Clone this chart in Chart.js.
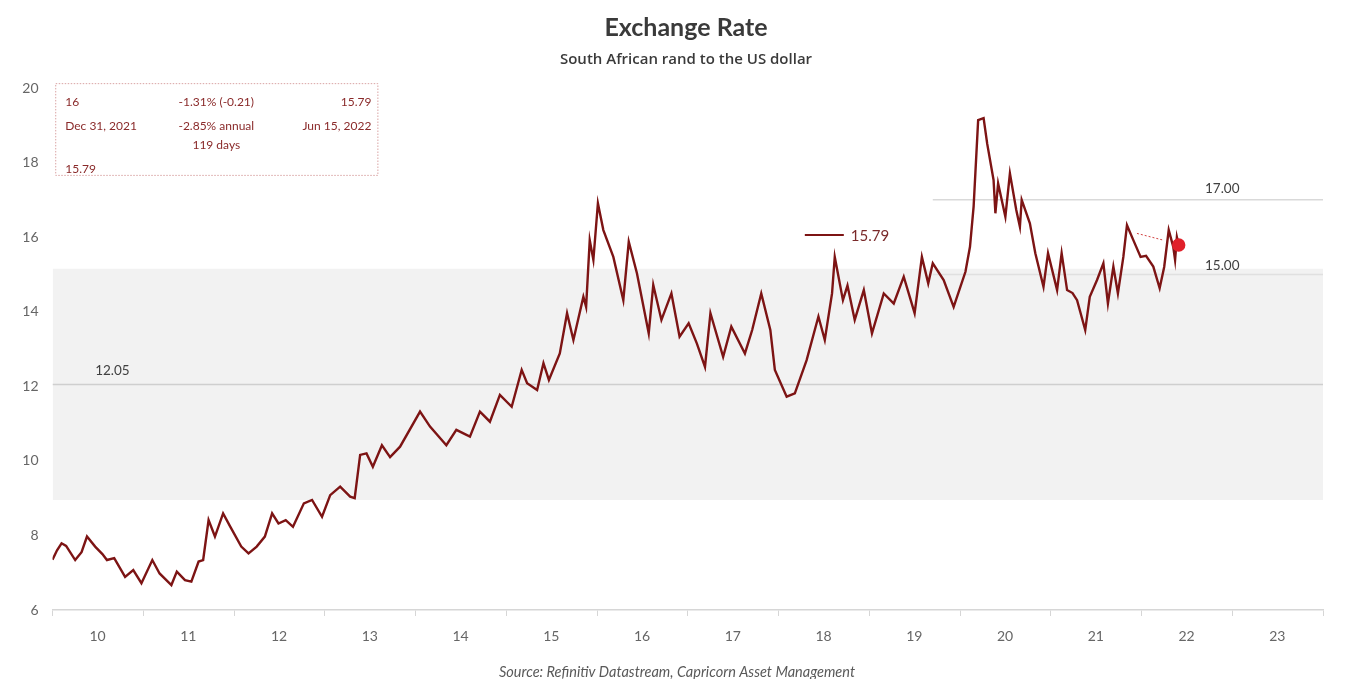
<!DOCTYPE html>
<html><head><meta charset="utf-8">
<script src="https://cdn.jsdelivr.net/npm/chart.js@4/dist/chart.umd.min.js"></script>
<style>html,body{margin:0;padding:0;background:#fff}#wrap{width:1358px;height:679px}</style>
</head><body><div id="wrap"><canvas id="c" width="1358" height="679"></canvas></div>
<script>
// ---- data ----
const dates = [2010.00,2010.05,2010.10,2010.15,2010.25,2010.32,2010.38,2010.47,2010.55,2010.60,2010.68,2010.80,2010.89,2010.98,
2011.10,2011.18,2011.31,2011.37,2011.46,2011.53,2011.61,2011.66,2011.72,2011.79,2011.88,2011.96,
2012.08,2012.16,2012.25,2012.34,2012.42,2012.49,2012.57,2012.65,2012.77,2012.86,2012.97,
2013.06,2013.17,2013.28,2013.33,2013.39,2013.46,2013.53,2013.63,2013.72,2013.83,
2014.05,2014.16,2014.34,2014.45,2014.60,2014.71,2014.82,2014.93,
2015.06,2015.17,2015.23,2015.34,2015.41,2015.47,2015.59,2015.67,2015.74,2015.85,2015.88,2015.92,2015.96,
2016.01,2016.07,2016.18,2016.29,2016.35,2016.44,2016.57,2016.62,2016.71,2016.82,2016.91,
2017.01,2017.10,2017.19,2017.25,2017.39,2017.48,2017.63,2017.71,2017.81,2017.91,2017.96,
2018.09,2018.18,2018.31,2018.44,2018.51,2018.59,2018.62,2018.71,2018.76,2018.84,2018.94,
2019.03,2019.16,2019.27,2019.38,2019.50,2019.58,2019.65,2019.70,2019.82,2019.93,
2020.06,2020.11,2020.15,2020.20,2020.26,2020.30,2020.37,2020.39,2020.42,2020.50,2020.55,2020.62,2020.66,2020.68,2020.77,2020.83,2020.92,2020.97,
2021.07,2021.12,2021.18,2021.24,2021.29,2021.38,2021.43,2021.51,2021.58,2021.63,2021.69,2021.74,2021.80,2021.84,2021.91,2021.99,
2022.05,2022.13,2022.20,2022.25,2022.30,2022.35,2022.37,2022.39,2022.41];
const rates = [7.35,7.60,7.79,7.72,7.34,7.55,7.97,7.70,7.50,7.34,7.39,6.89,7.07,6.72,
7.34,6.98,6.67,7.03,6.80,6.76,7.30,7.34,8.41,7.97,8.59,8.23,
7.70,7.52,7.70,7.97,8.59,8.32,8.41,8.23,8.86,8.95,8.50,
9.08,9.31,9.04,9.00,10.16,10.20,9.84,10.42,10.10,10.38,
11.32,10.92,10.42,10.83,10.65,11.32,11.05,11.77,
11.45,12.44,12.08,11.90,12.62,12.17,12.88,13.96,13.24,14.40,14.13,15.92,15.39,
16.91,16.19,15.47,14.31,15.88,15.03,13.42,14.72,13.78,14.49,13.33,
13.69,13.15,12.52,13.96,12.79,13.60,12.88,13.51,14.49,13.51,12.44,
11.72,11.81,12.70,13.87,13.24,14.49,15.47,14.31,14.70,13.78,14.58,
13.42,14.49,14.22,14.94,13.96,15.47,14.76,15.30,14.85,14.13,
15.07,15.74,16.82,19.14,19.19,18.50,17.53,16.64,17.44,16.55,17.71,16.73,16.28,17.00,16.37,15.57,14.67,15.57,
14.58,15.57,14.58,14.50,14.31,13.51,14.40,14.85,15.30,14.22,15.21,14.49,15.47,16.32,15.92,15.47,
15.50,15.21,14.63,15.20,16.19,15.74,15.39,16.00,15.79];
const yearLabels = ['10','11','12','13','14','15','16','17','18','19','20','21','22','23'];
const bandRange = [8.95, 15.15];
const averageLevel = 12.05;
const upperLevel = 17.00;
const lowerLevel = 15.00;
const levelStart = 2019.7;
const trendFrom = [2021.95, 16.10];
const trendTo = [2022.24, 15.92];
const infoRows = [
  ['16', '-1.31% (-0.21)', '15.79'],
  ['Dec 31, 2021', '-2.85% annual', 'Jun 15, 2022'],
  ['', '119 days', ''],
  ['15.79', '', '']
];
const lastValueLabel = '15.79';
const titleText = 'Exchange Rate';
const subtitleText = 'South African rand to the US dollar';
const sourceText = 'Source: Refinitiv Datastream, Capricorn Asset Management';

const FONT = 'Lato, "Open Sans", sans-serif';
const RED = '#7d1414';
const xMin = 2010, xMax = 2024;

const series = dates.map((d, i) => ({x: d, y: rates[i]}));
const lastIdx = series.length - 1;

const textPlugin = {
  id: 'texts',
  afterDatasetsDraw(chart) {
    const {ctx, scales: {x, y}} = chart;
    ctx.save();
    // level labels
    ctx.fillStyle = '#404040';
    ctx.font = '13.5px ' + FONT;
    ctx.textAlign = 'left';
    ctx.textBaseline = 'middle';
    ctx.fillText(averageLevel.toFixed(2), x.getPixelForValue(2010.47), y.getPixelForValue(averageLevel) - 14);
    ctx.fillText(upperLevel.toFixed(2), x.getPixelForValue(2022.70), y.getPixelForValue(upperLevel) - 11);
    ctx.fillText(lowerLevel.toFixed(2), x.getPixelForValue(2022.70), y.getPixelForValue(lowerLevel) - 9);
    // legend
    const lx = x.getPixelForValue(2018.29), ly = y.getPixelForValue(16.06);
    ctx.strokeStyle = RED; ctx.lineWidth = 2;
    ctx.beginPath(); ctx.moveTo(lx, ly); ctx.lineTo(lx + 39, ly); ctx.stroke();
    ctx.fillStyle = '#7a2a2a';
    ctx.font = '15px ' + FONT;
    ctx.fillText(lastValueLabel, lx + 46, ly + 1);
    // info box
    const bx0 = x.getPixelForValue(2010.03), bx1 = x.getPixelForValue(2013.58);
    const by0 = y.getPixelForValue(20.13), by1 = y.getPixelForValue(17.67);
    ctx.setLineDash([1.5, 1.5]);
    ctx.strokeStyle = '#d9a3a3'; ctx.lineWidth = 1;
    ctx.strokeRect(bx0 + 0.5, by0 + 0.5, bx1 - bx0, by1 - by0);
    ctx.setLineDash([]);
    ctx.fillStyle = '#8a2a2a';
    ctx.font = '12px ' + FONT;
    const rowY = [102, 126, 145, 169];
    const mid = (bx0 + bx1) / 2;
    infoRows.forEach((r, i) => {
      ctx.textAlign = 'left';  ctx.fillText(r[0], bx0 + 10, rowY[i]);
      ctx.textAlign = 'center'; ctx.fillText(r[1], mid, rowY[i]);
      ctx.textAlign = 'right'; ctx.fillText(r[2], bx1 - 6, rowY[i]);
    });
    ctx.restore();
  },
  afterDraw(chart) {
    const {ctx} = chart;
    ctx.save();
    ctx.textAlign = 'center';
    ctx.textBaseline = 'middle';
    ctx.fillStyle = '#3a3a3a';
    ctx.font = 'bold 25px ' + FONT;
    ctx.fillText(titleText, 686, 28);
    ctx.font = '600 15px "Open Sans", sans-serif';
    ctx.fillText(subtitleText, 686, 60);
    ctx.fillStyle = '#595959';
    ctx.font = 'italic 14.5px ' + FONT;
    ctx.fillText(sourceText, 677, 672);
    ctx.restore();
  }
};

new Chart(document.getElementById('c'), {
  type: 'line',
  data: {
    datasets: [
      {data: [{x: xMin, y: bandRange[1]}, {x: xMax, y: bandRange[1]}], fill: '+1', backgroundColor: '#f2f2f2', borderWidth: 0, pointRadius: 0, order: 10},
      {data: [{x: xMin, y: bandRange[0]}, {x: xMax, y: bandRange[0]}], fill: false, borderWidth: 0, pointRadius: 0, order: 10},
      {data: [{x: xMin, y: averageLevel}, {x: xMax, y: averageLevel}], borderColor: '#cfcfcf', borderWidth: 1.5, pointRadius: 0, order: 5},
      {data: [{x: levelStart, y: upperLevel}, {x: xMax, y: upperLevel}], borderColor: '#d9d9d9', borderWidth: 1.5, pointRadius: 0, order: 5},
      {data: [{x: levelStart, y: lowerLevel}, {x: xMax, y: lowerLevel}], borderColor: '#e0e0e0', borderWidth: 1.5, pointRadius: 0, order: 5},
      {data: series, borderColor: RED, borderWidth: 2.4, tension: 0,
       pointRadius: c => c.dataIndex === lastIdx ? 5.5 : 0,
       pointBackgroundColor: '#e0202a', pointBorderColor: '#e0202a', order: 1},
      {data: [{x: trendFrom[0], y: trendFrom[1]}, {x: trendTo[0], y: trendTo[1]}], borderColor: '#d04040', borderWidth: 1, borderDash: [2, 2], pointRadius: 0, order: 0}
    ]
  },
  options: {
    responsive: false,
    devicePixelRatio: 1,
    animation: false,
    layout: {padding: {left: 0, right: 35, top: 88, bottom: 29}},
    plugins: {
      legend: {display: false},
      tooltip: {enabled: false},
      title: {display: false},
      subtitle: {display: false}
    },
    scales: {
      x: {
        type: 'linear', min: xMin, max: xMax,
        afterBuildTicks: s => { s.ticks = []; for (let v = xMin; v <= xMax; v++) s.ticks.push({value: v}); },
        afterFit: s => { s.height = 40; },
        ticks: {
          labelOffset: 45, padding: 12, color: '#666', font: {family: FONT, size: 14},
          maxRotation: 0, autoSkip: false,
          callback: v => yearLabels[v - xMin] || ''
        },
        grid: {drawOnChartArea: false, drawTicks: true, tickLength: 6, color: '#d6d6d6'},
        border: {display: true, color: '#d6d6d6', width: 1.5}
      },
      y: {
        min: 6, max: 20,
        afterFit: s => { s.width = 52.5; },
        ticks: {stepSize: 2, padding: 14, color: '#666', font: {family: FONT, size: 14}},
        grid: {display: false, drawTicks: false},
        border: {display: false}
      }
    }
  },
  plugins: [textPlugin]
});
</script>
</body></html>
